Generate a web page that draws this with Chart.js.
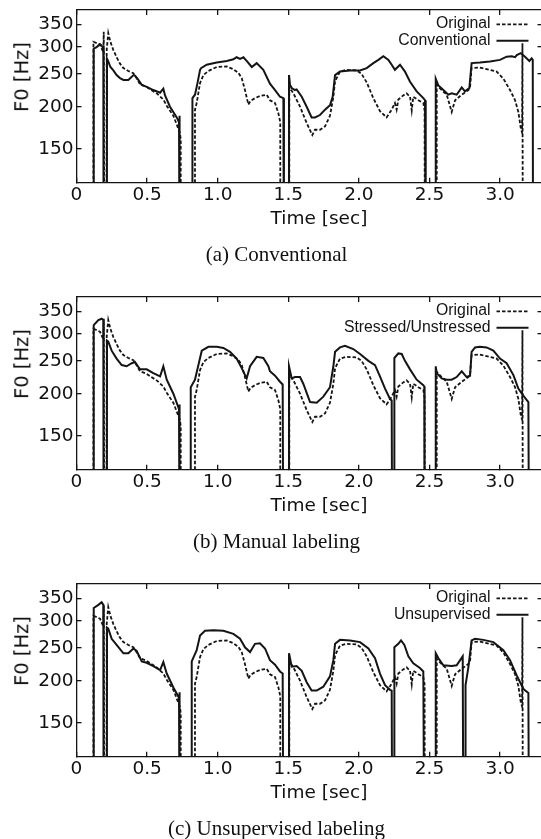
<!DOCTYPE html>
<html>
<head>
<meta charset="utf-8">
<title>F0 contours</title>
<script src="https://cdn.jsdelivr.net/npm/chart.js@4/dist/chart.umd.min.js"></script>
<style>
    html, body { margin: 0; width: 541px; height: 839px; overflow: hidden; background: #fff; }
    .panel { position: absolute; left: 0; width: 545px; height: 287px; }
    .panel canvas { position: absolute; left: 0; top: 0; }
    .ylab, .xlab, .cap {
        position: absolute; white-space: nowrap; color: #111; line-height: 1;
    }
    .ylab { left: 22px; top: 77px; font: 19.5px 'DejaVu Sans', sans-serif; line-height: 1;
            transform: translate(-50%, -50%) rotate(-90deg); }
    .xlab { left: 319px; top: 218px; font: 18.5px 'DejaVu Sans', sans-serif; line-height: 1;
            transform: translate(-50%, -50%); }
    .cap  { left: 276.5px; top: 254px; font: 21px 'Liberation Serif', serif; line-height: 1;
            transform: translate(-50%, -50%); }
</style>
</head>
<body>

<div class="panel" style="top:0px">
    <canvas id="chartA" width="545" height="287"></canvas>
    <div class="ylab">F0 [Hz]</div>
    <div class="xlab">Time [sec]</div>
    <div class="cap">(a) Conventional</div>
</div>
<div class="panel" style="top:287px">
    <canvas id="chartB" width="545" height="287"></canvas>
    <div class="ylab">F0 [Hz]</div>
    <div class="xlab">Time [sec]</div>
    <div class="cap">(b) Manual labeling</div>
</div>
<div class="panel" style="top:574px">
    <canvas id="chartC" width="545" height="287"></canvas>
    <div class="ylab">F0 [Hz]</div>
    <div class="xlab">Time [sec]</div>
    <div class="cap">(c) Unsupervised labeling</div>
</div>

<script>
/* ------- 数据 (time [sec], F0 [Hz]); 60 = unvoiced, falls below the axis ------- */
const xTicks = [0, 0.5, 1.0, 1.5, 2.0, 2.5, 3.0];
const yTicks = [150, 200, 250, 300, 350];

const original = [
    [0.120, 60], [0.120, 311], [0.145, 308], [0.166, 305], [0.180, 296], [0.190, 290], [0.193, 333], [0.197, 60],
    [0.212, 60], [0.214, 295], [0.225, 330], [0.240, 311], [0.261, 294], [0.284, 280], [0.308, 268], [0.332, 260],
    [0.367, 255], [0.403, 251], [0.425, 243], [0.450, 233], [0.497, 229], [0.530, 224], [0.568, 219], [0.615, 210],
    [0.640, 201], [0.686, 188], [0.710, 177], [0.733, 167], [0.738, 160], [0.738, 60],
    [0.839, 60], [0.839, 196], [0.851, 205], [0.875, 235], [0.899, 248], [0.934, 255], [0.993, 262], [1.064, 263],
    [1.111, 258], [1.146, 252], [1.170, 243], [1.193, 224], [1.217, 203], [1.232, 208], [1.264, 212], [1.299, 215],
    [1.347, 217], [1.370, 209], [1.406, 205], [1.430, 191], [1.443, 180], [1.443, 60],
    [1.507, 60], [1.507, 228], [1.536, 219], [1.583, 200], [1.630, 179], [1.670, 165], [1.689, 171], [1.724, 171],
    [1.760, 175], [1.795, 188], [1.819, 214], [1.831, 238], [1.866, 254], [1.913, 257], [1.984, 256], [2.019, 250],
    [2.055, 236], [2.102, 212], [2.149, 194], [2.196, 186], [2.232, 196], [2.255, 205], [2.267, 196], [2.279, 210],
    [2.314, 216], [2.338, 219], [2.362, 214], [2.374, 195], [2.385, 214], [2.421, 209], [2.456, 205], [2.465, 195], [2.467, 60],
    [2.551, 60], [2.551, 232], [2.586, 224], [2.622, 217], [2.657, 193], [2.681, 209], [2.728, 217], [2.775, 224],
    [2.787, 228], [2.798, 260], [2.857, 261], [2.928, 257], [2.975, 254], [3.023, 242], [3.070, 224], [3.106, 209],
    [3.129, 193], [3.146, 173], [3.155, 168], [3.158, 308], [3.161, 60]
];

const conventional = [
    [0.122, 60], [0.122, 297], [0.143, 300], [0.166, 306], [0.178, 303], [0.190, 297], [0.192, 60],
    [0.215, 60], [0.216, 277], [0.225, 272], [0.240, 262], [0.261, 256], [0.284, 248], [0.308, 243], [0.332, 240],
    [0.367, 240], [0.391, 245], [0.403, 248], [0.414, 247], [0.438, 240], [0.462, 232], [0.497, 229], [0.544, 224],
    [0.592, 220], [0.615, 226], [0.627, 216], [0.662, 200], [0.710, 186], [0.726, 180], [0.729, 188], [0.731, 60],
    [0.821, 60], [0.821, 212], [0.839, 217], [0.856, 234], [0.875, 257], [0.882, 260], [0.922, 266], [0.993, 270],
    [1.064, 273], [1.111, 276], [1.134, 280], [1.158, 277], [1.182, 280], [1.205, 273], [1.241, 262], [1.276, 269],
    [1.323, 257], [1.370, 234], [1.406, 224], [1.441, 214], [1.465, 212], [1.469, 60],
    [1.505, 60], [1.505, 248], [1.512, 232], [1.524, 227], [1.547, 224], [1.559, 225], [1.595, 214], [1.630, 200],
    [1.665, 186], [1.689, 186], [1.724, 189], [1.760, 196], [1.795, 202], [1.814, 214], [1.831, 248], [1.866, 254],
    [1.937, 256], [2.008, 256], [2.055, 260], [2.102, 269], [2.138, 275], [2.173, 282], [2.209, 275], [2.232, 266],
    [2.255, 257], [2.291, 266], [2.326, 254], [2.362, 237], [2.409, 222], [2.456, 212], [2.468, 209], [2.473, 60],
    [2.544, 60], [2.544, 242], [2.563, 231], [2.598, 224], [2.633, 217], [2.657, 219], [2.692, 217], [2.728, 228],
    [2.751, 222], [2.782, 227], [2.798, 269], [2.857, 270], [2.928, 272], [2.999, 275], [3.046, 281], [3.082, 282],
    [3.106, 280], [3.118, 284], [3.146, 288], [3.176, 281], [3.207, 273], [3.223, 278], [3.231, 275], [3.233, 60]
];

const stressed = [
    [0.122, 60], [0.122, 319], [0.155, 330], [0.178, 333], [0.190, 330], [0.192, 60],
    [0.215, 60], [0.216, 287], [0.225, 285], [0.249, 268], [0.284, 254], [0.320, 243], [0.355, 241], [0.391, 246],
    [0.414, 248], [0.450, 236], [0.497, 236], [0.544, 230], [0.592, 225], [0.615, 241], [0.639, 220], [0.686, 200],
    [0.726, 180], [0.729, 186], [0.731, 60],
    [0.809, 60], [0.809, 209], [0.839, 220], [0.887, 268], [0.934, 275], [0.993, 275], [1.040, 273], [1.087, 266],
    [1.134, 254], [1.170, 238], [1.205, 222], [1.229, 241], [1.276, 257], [1.323, 255], [1.359, 241], [1.370, 233],
    [1.406, 226], [1.441, 217], [1.460, 213], [1.465, 60],
    [1.505, 60], [1.505, 241], [1.524, 222], [1.547, 224], [1.583, 224], [1.606, 214], [1.654, 189], [1.701, 188],
    [1.748, 196], [1.795, 209], [1.819, 241], [1.831, 266], [1.866, 274], [1.901, 277], [1.960, 271], [2.008, 262],
    [2.067, 250], [2.114, 243], [2.149, 225], [2.185, 207], [2.220, 193], [2.232, 191], [2.236, 60],
    [2.251, 60], [2.251, 255], [2.279, 263], [2.303, 262], [2.326, 250], [2.362, 236], [2.409, 220], [2.456, 212],
    [2.463, 210], [2.465, 60],
    [2.544, 60], [2.544, 241], [2.551, 230], [2.586, 222], [2.622, 220], [2.657, 220], [2.692, 224], [2.728, 233],
    [2.763, 224], [2.787, 226], [2.798, 266], [2.822, 274], [2.857, 275], [2.904, 274], [2.952, 268], [2.999, 254],
    [3.046, 246], [3.094, 227], [3.129, 207], [3.165, 197], [3.200, 189], [3.205, 60]
];

const unsupervised = [
    [0.122, 60], [0.122, 328], [0.155, 335], [0.178, 341], [0.190, 335], [0.192, 60],
    [0.215, 60], [0.216, 287], [0.225, 285], [0.249, 266], [0.284, 255], [0.332, 241], [0.367, 241], [0.403, 249],
    [0.426, 245], [0.462, 228], [0.497, 226], [0.544, 221], [0.592, 215], [0.615, 227], [0.639, 210], [0.686, 191],
    [0.726, 178], [0.729, 185], [0.731, 60],
    [0.816, 60], [0.816, 228], [0.851, 246], [0.875, 272], [0.910, 281], [0.969, 282], [1.040, 281], [1.111, 275],
    [1.158, 266], [1.193, 251], [1.229, 243], [1.264, 257], [1.299, 258], [1.335, 249], [1.370, 230], [1.406, 223],
    [1.441, 213], [1.460, 210], [1.465, 60],
    [1.505, 60], [1.505, 241], [1.524, 220], [1.559, 221], [1.595, 214], [1.630, 198], [1.665, 187], [1.701, 187],
    [1.748, 192], [1.795, 206], [1.819, 230], [1.831, 257], [1.866, 264], [1.937, 263], [2.008, 260], [2.067, 249],
    [2.114, 233], [2.149, 210], [2.185, 194], [2.220, 188], [2.232, 187], [2.236, 60],
    [2.251, 60], [2.251, 251], [2.279, 257], [2.298, 263], [2.322, 255], [2.350, 236], [2.385, 225], [2.432, 218],
    [2.456, 213], [2.463, 60],
    [2.544, 60], [2.544, 241], [2.563, 233], [2.598, 222], [2.657, 221], [2.692, 222], [2.735, 236], [2.740, 60],
    [2.755, 60], [2.755, 194], [2.775, 219], [2.798, 263], [2.822, 266], [2.881, 264], [2.952, 260], [3.023, 246],
    [3.070, 230], [3.118, 207], [3.165, 189], [3.200, 184], [3.205, 60]
];

/* ------- 样式 ------- */
const INK = '#141414';
const TICK_FONT = { family: "'DejaVu Sans', sans-serif", size: 18.5 };
Chart.defaults.font.family = "'DejaVu Sans', sans-serif";

// legend drawn inside the plot: text first, then the line sample
const insideLegend = {
    id: 'insideLegend',
    afterDatasetsDraw(chart) {
        const { ctx, chartArea } = chart;
        const textRight = chartArea.right - 52;
        ctx.save();
        ctx.font = '15.8px "Liberation Sans", Arial, sans-serif';
        ctx.textAlign = 'right';
        ctx.textBaseline = 'alphabetic';
        chart.data.datasets.forEach((ds, i) => {
            const y = chartArea.top + 14.3 + i * 16.4;
            ctx.fillStyle = INK;
            ctx.fillText(ds.label, textRight, y + 4.1);
            ctx.beginPath();
            ctx.setLineDash(ds.borderDash || []);
            ctx.lineWidth = ds.borderWidth;
            ctx.strokeStyle = ds.borderColor;
            ctx.moveTo(textRight + 6, y);
            ctx.lineTo(textRight + 38, y);
            ctx.stroke();
        });
        ctx.restore();
    }
};

function frameAxis(extra) {
    return Object.assign({
        grid: { drawOnChartArea: false, color: INK, lineWidth: 1.3, tickLength: -5 },
        border: { color: INK, width: 1.3 }
    }, extra);
}

function makeChart(canvasId, methodLabel, methodData) {
    const toPts = arr => arr.map(([t, f]) => ({ x: t, y: f }));
    const setXTicks = s => { s.ticks = xTicks.map(v => ({ value: v })); };
    const setYTicks = s => { s.ticks = yTicks.map(v => ({ value: v })); };

    return new Chart(document.getElementById(canvasId), {
        type: 'line',
        data: {
            datasets: [
                {
                    label: 'Original',
                    data: toPts(original),
                    borderColor: INK,
                    borderWidth: 1.8,
                    borderDash: [3.5, 2],
                    pointRadius: 0,
                    tension: 0,
                },
                {
                    label: methodLabel,
                    data: toPts(methodData),
                    borderColor: INK,
                    borderWidth: 2.0,
                    pointRadius: 0,
                    tension: 0,
                }
            ]
        },
        options: {
            responsive: false,
            animation: false,
            events: [],
            layout: { padding: { top: 10, right: 2.5, bottom: 57.3, left: 0 } },
            plugins: { legend: { display: false }, tooltip: { enabled: false } },
            scales: {
                x: frameAxis({
                    type: 'linear', position: 'bottom', min: 0, max: 3.3,
                    afterBuildTicks: setXTicks,
                    ticks: {
                        color: '#111', font: TICK_FONT, padding: 6.4, autoSkip: false, maxRotation: 0,
                        callback: v => v === 0 ? '0' : v.toFixed(1)
                    },
                    afterFit: s => { s.height = 47; s.paddingLeft = 0; s.paddingRight = 0; }
                }),
                x2: frameAxis({
                    type: 'linear', position: 'top', min: 0, max: 3.3,
                    afterBuildTicks: setXTicks,
                    ticks: { display: false },
                    afterFit: s => { s.height = 0; s.paddingLeft = 0; s.paddingRight = 0; }
                }),
                y: frameAxis({
                    type: 'logarithmic', position: 'left', min: 119.3, max: 386,
                    afterBuildTicks: setYTicks,
                    ticks: { color: '#111', font: TICK_FONT, padding: 8, callback: v => String(v) },
                    afterFit: s => { s.width = 76.5; s.paddingTop = 0; s.paddingBottom = 0; }
                }),
                y2: frameAxis({
                    type: 'logarithmic', position: 'right', min: 119.3, max: 386,
                    afterBuildTicks: setYTicks,
                    ticks: { display: false },
                    afterFit: s => { s.width = 0; s.paddingTop = 0; s.paddingBottom = 0; }
                })
            }
        },
        plugins: [insideLegend]
    });
}

makeChart('chartA', 'Conventional', conventional);
makeChart('chartB', 'Stressed/Unstressed', stressed);
makeChart('chartC', 'Unsupervised', unsupervised);
</script>
</body>
</html>
